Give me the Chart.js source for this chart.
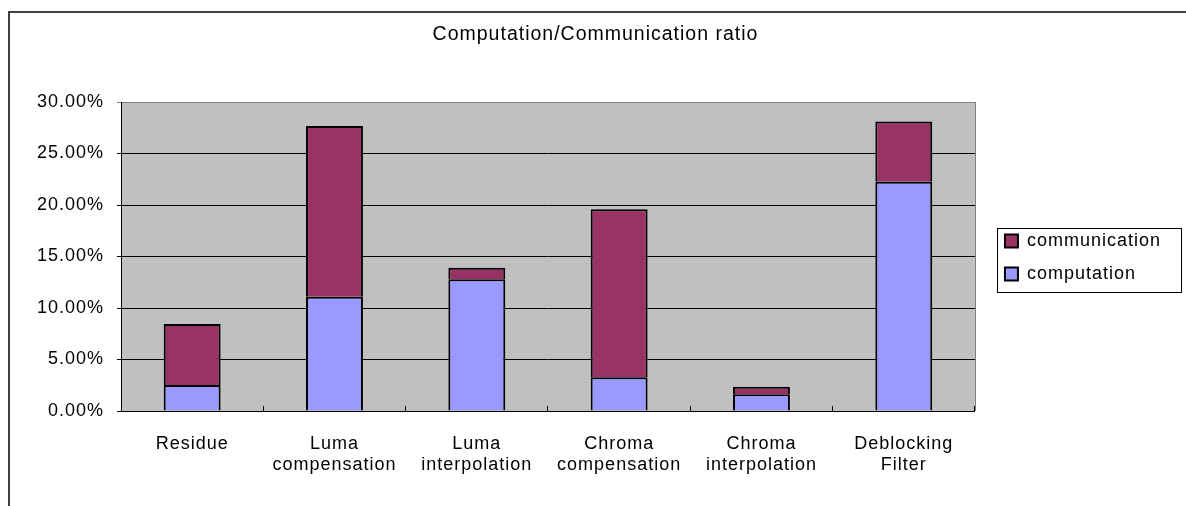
<!DOCTYPE html>
<html>
<head>
<meta charset="utf-8">
<title>Computation/Communication ratio</title>
<script src="https://cdn.jsdelivr.net/npm/chart.js@4/dist/chart.umd.min.js"></script>
<style>
  html, body { margin: 0; padding: 0; background: #fff; }
  #wrap { width: 1186px; height: 506px; }
</style>
</head>
<body>
<div id="wrap"><canvas id="chart" width="1186" height="506"></canvas></div>
<script>
// Kernel stages (x-axis categories, split over two lines where needed)
const categories = [
  ['Residue'],
  ['Luma', 'compensation'],
  ['Luma', 'interpolation'],
  ['Chroma', 'compensation'],
  ['Chroma', 'interpolation'],
  ['Deblocking', 'Filter']
];

// Share of time spent, in percent
const computation   = [2.52, 11.10, 12.78, 3.27, 1.62, 22.26];
const communication = [5.93, 16.57, 1.13, 16.31, 0.74, 5.84];

// Value axis
const yTicks = [0, 5, 10, 15, 20, 25, 30];

const FONT = 'Liberation Sans, Arial, sans-serif';
const SPACING = '1px';

// Slightly spaced lettering for every text the chart draws
const lettering = {
  id: 'lettering',
  beforeUpdate(chart) { chart.ctx.letterSpacing = SPACING; },
  beforeLayout(chart) { chart.ctx.letterSpacing = SPACING; },
  beforeDraw(chart) { chart.ctx.letterSpacing = SPACING; }
};

// Grey plot background, plot frame, legend frame and outer frame
const frames = {
  id: 'frames',
  afterLayout(chart) {
    // nudge the legend a little away from the plot
    const lg = chart.legend;
    lg.left += 15; lg.right += 15;
    lg.top += 1; lg.bottom += 1;
    // centre the title on the whole canvas
    const tb = chart.titleBlock;
    if (tb) { tb.left = 5; tb.right = chart.width; }
  },
  beforeDraw(chart) {
    const { ctx, chartArea: a } = chart;
    ctx.save();
    ctx.fillStyle = '#C0C0C0';
    ctx.fillRect(a.left, a.top, a.right - a.left, a.bottom - a.top);
    ctx.restore();
  },
  afterDraw(chart) {
    const { ctx, chartArea: a } = chart;
    ctx.save();
    // right edge of the plot
    ctx.strokeStyle = '#808080';
    ctx.lineWidth = 1;
    ctx.beginPath();
    ctx.moveTo(Math.round(a.right) + 0.5, a.top);
    ctx.lineTo(Math.round(a.right) + 0.5, a.bottom);
    ctx.stroke();

    // legend frame
    const lg = chart.legend;
    const pad = lg.options.labels.padding;
    const colH = 2 * (18 + pad);
    const firstMid = (lg.top + pad + lg.bottom - colH) / 2 + 9;
    const lx = lg.left + pad - 8;
    ctx.strokeStyle = '#000';
    ctx.lineWidth = 1;
    ctx.strokeRect(Math.round(lx) + 0.5, Math.round(firstMid - 13) + 0.5, 184, 64);

    // outer frame
    ctx.strokeStyle = '#404040';
    ctx.lineWidth = 2;
    ctx.beginPath();
    ctx.moveTo(9, chart.height);
    ctx.lineTo(9, 12);
    ctx.lineTo(chart.width, 12);
    ctx.stroke();
    ctx.restore();
  }
};

new Chart(document.getElementById('chart'), {
  type: 'bar',
  data: {
    labels: categories,
    datasets: [
      {
        label: 'computation',
        data: computation,
        backgroundColor: '#9999FF',
        borderColor: '#000',
        borderWidth: 2
      },
      {
        label: 'communication',
        data: communication,
        backgroundColor: '#993366',
        borderColor: '#000',
        borderWidth: 2
      }
    ]
  },
  options: {
    responsive: false,
    animation: false,
    events: [],
    layout: { padding: { left: 0, right: 30, top: 0, bottom: 0 } },
    datasets: { bar: { categoryPercentage: 1, barPercentage: 0.4 } },
    scales: {
      x: {
        stacked: true,
        afterFit(scale) { scale.height = 95; },
        grid: {
          display: true,
          offset: true,
          drawOnChartArea: false,
          drawTicks: true,
          tickLength: -5,
          color: '#000'
        },
        border: { display: true, color: '#000', width: 1 },
        ticks: {
          color: '#000',
          padding: 27.5,
          maxRotation: 0,
          autoSkip: false,
          font: { family: FONT, size: 18, lineHeight: 1.15 }
        }
      },
      y: {
        stacked: true,
        min: 0,
        max: 30,
        afterFit(scale) { scale.width = 121; },
        afterBuildTicks(scale) { scale.ticks = yTicks.map(v => ({ value: v })); },
        grid: {
          color: c => (c.tick && c.tick.value === 30) ? '#808080' : '#000',
          tickLength: 4,
          lineWidth: 1
        },
        border: { display: true, color: '#000', width: 1 },
        ticks: {
          color: '#000',
          padding: 13,
          font: { family: FONT, size: 18 },
          callback: v => v.toFixed(2) + '%'
        }
      }
    },
    plugins: {
      title: {
        display: true,
        text: 'Computation/Communication ratio',
        color: '#000',
        font: { family: FONT, size: 19.5, weight: 'normal', lineHeight: 1.2 },
        padding: { top: 23, bottom: 55.6 }
      },
      legend: {
        display: true,
        position: 'right',
        fullSize: false,
        reverse: true,
        labels: {
          color: '#000',
          boxWidth: 13,
          boxHeight: 13,
          padding: 15,
          font: { family: FONT, size: 18 }
        }
      },
      tooltip: { enabled: false }
    }
  },
  plugins: [lettering, frames]
});
</script>
</body>
</html>
